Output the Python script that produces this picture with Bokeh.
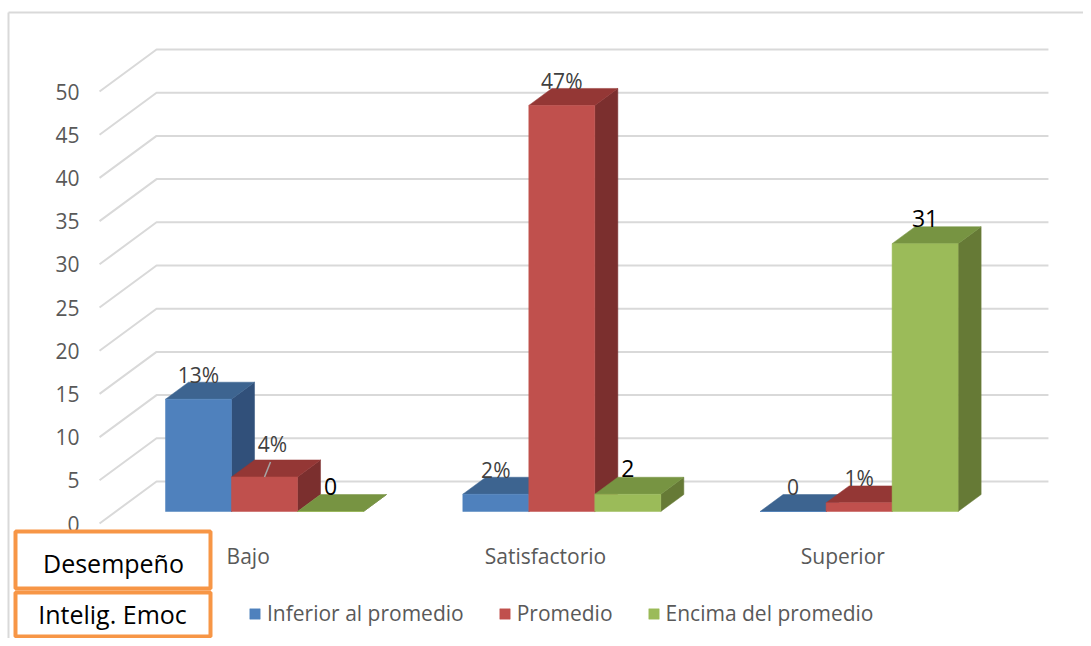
from bokeh.plotting import figure
from bokeh.models import Range1d, Legend, LegendItem
from bokeh.core.properties import value
from bokeh.embed import file_html
from bokeh.resources import INLINE

# ---------------- data ----------------
categories = ["Bajo", "Satisfactorio", "Superior"]
series_names = ["Inferior al promedio", "Promedio", "Encima del promedio"]
inferior = [13, 2, 0]
promedio = [4, 47, 1]
encima = [0, 2, 31]
labels_inferior = ["13%", "2%", "0"]
labels_promedio = ["4%", "47%", "1%"]
labels_encima = ["0", "2", "31"]
y_ticks = [0, 5, 10, 15, 20, 25, 30, 35, 40, 45, 50]
box_texts = ["Desempeño", "Intelig. Emoc"]

series_values = [inferior, promedio, encima]
series_labels = [labels_inferior, labels_promedio, labels_encima]

# ---------------- style ----------------
FRONT = ["#4F81BD", "#C0504D", "#9BBB59"]
TOP = ["#3D6490", "#943735", "#779442"]
SIDE = ["#31507A", "#7B2F2E", "#667A36"]
LABEL_COLORS = ["#404040", "#404040", "#000000"]
LABEL_SIZES = ["21px", "21px", "23px"]
LABEL_HALF = [7.5, 7.5, 8.3]   # half glyph height, px
GRID = "#D9D9D9"
TEXT = "#595959"
ORANGE = "#F79646"
FONT = "Open Sans"

W, H = 1083, 638
# picture-pixel layout of the projection
PX0, PXU = 247.7, 297.3     # x of category 0 (front plane), px per category
PY0, PYU = 523.0, 8.64      # y of value 0 (front plane), px per unit


def xd(px):
    return (px - PX0) / PXU


def yd(py):
    return (PY0 - py) / PYU


DX = 57 / PXU      # full depth, x (data)
DY = 42 / PYU      # full depth, y (data)
Z0, Z1 = 0.286, 0.69   # bar depth band
BW = 66 / PXU      # bar width
ddx, ddy = (Z1 - Z0) * DX, (Z1 - Z0) * DY

p = figure(width=W, height=H,
           x_range=Range1d(xd(0), xd(W)), y_range=Range1d(yd(H), yd(0)),
           output_backend="svg", toolbar_location=None,
           x_axis_location=None, y_axis_location=None,
           min_border=0, outline_line_color=None,
           background_fill_color="white", border_fill_color="white")
p.grid.visible = False

# outer chart border (left and top)
p.line([xd(8), xd(8)], [yd(12), yd(H)], line_color=GRID, line_width=2)
p.line([xd(8), xd(W)], [yd(12), yd(12)], line_color=GRID, line_width=2)

# walls: left diagonal + back gridline for every tick
n = len(categories)
gxs, gys = [], []
for v in y_ticks:
    gxs.append([-0.5, -0.5 + DX, n - 0.5 + DX])
    gys.append([v, v + DY, v + DY])
p.multi_line(gxs, gys, line_color=GRID, line_width=2)

# y tick labels
p.text(x=[-0.5 - 20 / PXU] * len(y_ticks), y=y_ticks, text=[str(t) for t in y_ticks],
       text_align="right", text_baseline="middle", text_color=TEXT,
       text_font=value(FONT), text_font_size="21px")

# category labels
p.text(x=list(range(n)), y=[yd(555)] * n, text=categories,
       text_align="center", text_baseline="middle", text_color=TEXT,
       text_font=value(FONT), text_font_size="21px")

# 3D bars
legend_items = []
for s, vals in enumerate(series_values):
    left = [i + (s - 1.5) * BW + Z0 * DX for i in range(n)]
    right = [l + BW for l in left]
    bottom = [Z0 * DY] * n
    top = [Z0 * DY + v for v in vals]
    sxs = [[r, r + ddx, r + ddx, r] for r in right]
    sys_ = [[b, b + ddy, t + ddy, t] for b, t in zip(bottom, top)]
    p.patches(sxs, sys_, fill_color=SIDE[s], line_color=SIDE[s], line_width=0.5)
    txs = [[l, r, r + ddx, l + ddx] for l, r in zip(left, right)]
    tys = [[t, t, t + ddy, t + ddy] for t in top]
    p.patches(txs, tys, fill_color=TOP[s], line_color=TOP[s], line_width=0.5)
    fr = p.quad(left=left, right=right, bottom=bottom, top=top,
                fill_color=FRONT[s], line_color=FRONT[s], line_width=0.5)
    legend_items.append(LegendItem(label=series_names[s], renderers=[fr]))

# data labels
for s, vals in enumerate(series_values):
    cx = [i + (s - 1) * BW + Z0 * DX for i in range(n)]
    ly = [v + Z1 * DY + LABEL_HALF[s] / PYU for v in vals]
    lx = list(cx)
    # the "4%" label sits higher with a leader line
    if s == 1:
        lx[0] = cx[0] + 8 / PXU
        ly[0] = ly[0] + 8 / PYU
        p.line([cx[0], cx[0] + 6 / PXU], [vals[0] + Z0 * DY, vals[0] + Z0 * DY + 15 / PYU],
               line_color="#A6A6A6", line_width=1.5)
    p.text(x=lx, y=ly, text=series_labels[s], text_align="center",
           text_baseline="middle", text_color=LABEL_COLORS[s],
           text_font=value(FONT), text_font_size=LABEL_SIZES[s])

# orange label boxes
p.quad(left=[xd(15), xd(15)], right=[xd(210), xd(210)],
       top=[yd(531), yd(592)], bottom=[yd(588), yd(636)],
       fill_color="white", line_color=ORANGE, line_width=4)
p.text(x=[xd(113), xd(112)], y=[yd(562), yd(613)], text=box_texts,
       text_align="center", text_baseline="middle", text_color="black",
       text_font=value(FONT), text_font_size="25px")

legend = Legend(items=legend_items, orientation="horizontal", location=(248, 11),
                glyph_width=13, glyph_height=13, label_standoff=6, spacing=34,
                padding=0, margin=0, border_line_color=None, background_fill_alpha=0,
                label_text_font=FONT, label_text_font_size="21px", label_text_color=TEXT)
p.add_layout(legend)

open("out.html", "w").write(file_html(p, INLINE))
